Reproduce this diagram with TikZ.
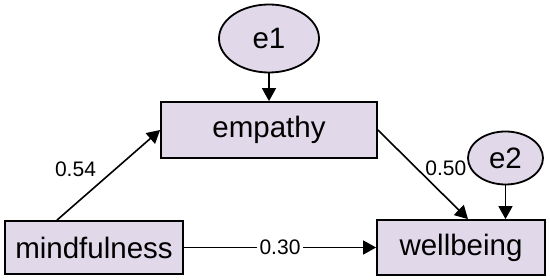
\documentclass[tikz,border=0pt]{standalone}
\usepackage{fontspec}
\setmainfont{Liberation Sans}
\usepackage{xcolor}
\usepackage{tikz}
\usetikzlibrary{arrows.meta,positioning,shapes.geometric,calc}
\definecolor{semlilac}{RGB}{225,216,234}

\begin{document}
\begin{tikzpicture}[
    x=1pt, y=-1pt,
    observed/.style={rectangle, draw=black, fill=semlilac, line width=1.8pt,
                     minimum width=#1, inner sep=0pt,
                     font=\fontsize{29.5}{34}\selectfont},
    residual/.style={ellipse, draw=black, fill=semlilac, line width=1.8pt,
                     inner sep=0pt, font=\fontsize{29.5}{34}\selectfont},
    path/.style={-{Triangle[length=13pt,width=14pt]}, line width=1.6pt},
    coef/.style={font=\fontsize{21}{25}\selectfont, inner sep=1pt},
]
    \useasboundingbox (0,0) rectangle (550,280);

    % Observed variables
    \node[observed=178pt, minimum height=53pt] (mindfulness) at (94,247.5) {mindfulness};
    \node[observed=216pt, minimum height=56pt] (empathy) at (269,130) {empathy};
    \node[observed=168pt, minimum height=55pt] (wellbeing) at (461,247.5) {wellbeing};

    % Error terms
    \node[residual, minimum width=100pt, minimum height=68pt] (e1) at (269,38.5) {e1};
    \node[residual, minimum width=75pt, minimum height=53pt] (e2) at (505.5,158) {e2};

    % Paths
    \draw[path] ([xshift=-37pt]mindfulness.north) -- (empathy.west)
        node[coef, pos=0.56, left=17pt] {0.54};
    \draw[path] (empathy.east) -- ([xshift=7pt]wellbeing.north)
        node[coef, pos=0.43, right=7pt] {0.50};
    \draw[path] (mindfulness.east) -- (wellbeing.west)
        node[coef, midway, fill=white, inner sep=3pt] {0.30};
    \draw[path] (e1) -- (empathy);
    \draw[path] (e2.south) -- (e2.south |- wellbeing.north);
\end{tikzpicture}
\end{document}
